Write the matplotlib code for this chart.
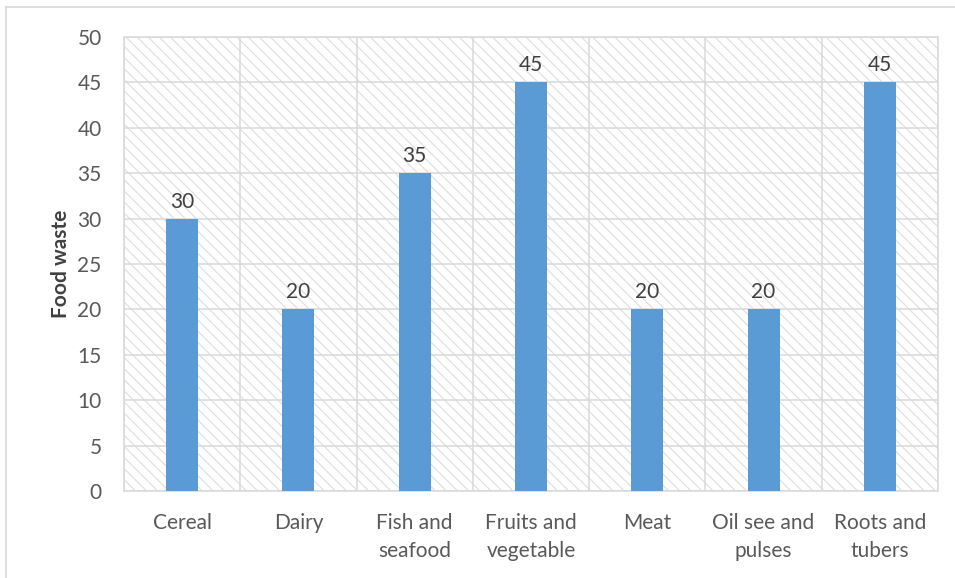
import matplotlib
matplotlib.use("Agg")
import matplotlib.pyplot as plt
from matplotlib.patches import Rectangle
from matplotlib.lines import Line2D

categories = ["Cereal", "Dairy", "Fish and\nseafood", "Fruits and\nvegetable",
              "Meat", "Oil see and\npulses", "Roots and\ntubers"]
food_waste = [30, 20, 35, 45, 20, 20, 45]
y_ticks = [0, 5, 10, 15, 20, 25, 30, 35, 40, 45, 50]

plt.rcParams["font.family"] = ["Lato", "DejaVu Sans"]
plt.rcParams["hatch.linewidth"] = 0.7

grid_col = "#d9d9d9"
text_col = "#595959"
bar_col = "#5b9bd5"
fs = 15

fig = plt.figure(figsize=(9.55, 5.78), dpi=100)
ax = fig.add_axes([0.1298, 0.1505, 0.8524, 0.7855])

# frame line along the top and left of the figure
fig.add_artist(Line2D([0.0068, 0.0068], [0, 0.988], transform=fig.transFigure,
                      color="#d9d9d9", lw=1.2))
fig.add_artist(Line2D([0.0068, 1.0], [0.988, 0.988], transform=fig.transFigure,
                      color="#d9d9d9", lw=1.2))

n = len(categories)
x = list(range(n))

# hatched plot-area background
ax.add_patch(Rectangle((0, 0), 1, 1, transform=ax.transAxes, facecolor="white",
                       edgecolor=grid_col, linewidth=0, hatch="\\\\\\", zorder=0))

ax.bar(x, food_waste, width=0.275, color=bar_col, zorder=3)

for xi, v in zip(x, food_waste):
    ax.annotate(str(v), (xi, v), xytext=(0, 5), textcoords="offset points",
                ha="center", va="bottom", fontsize=fs, color="#404040", zorder=4)

ax.set_xlim(-0.5, n - 0.5)
ax.set_ylim(0, 50)
ax.set_yticks(y_ticks)
ax.set_xticks(x)
ax.set_xticklabels(categories, linespacing=1.5)
ax.set_xticks([i + 0.5 for i in range(-1, n)], minor=True)

ax.tick_params(axis="both", length=0, labelsize=fs, colors=text_col)
ax.tick_params(axis="y", pad=16)
ax.tick_params(axis="x", which="major", pad=16)
ax.tick_params(axis="x", which="minor", length=0)

ax.yaxis.grid(True, color=grid_col, lw=1.1, zorder=1)
ax.xaxis.grid(True, which="minor", color=grid_col, lw=1.1, zorder=1)
ax.xaxis.grid(False, which="major")
ax.set_axisbelow(True)

for s in ax.spines.values():
    s.set_color(grid_col)
    s.set_linewidth(1.1)

ax.set_ylabel("Food waste", fontsize=fs, fontweight="bold", color="#404040", labelpad=5)

fig.savefig("out.png", dpi=100, facecolor="white")
